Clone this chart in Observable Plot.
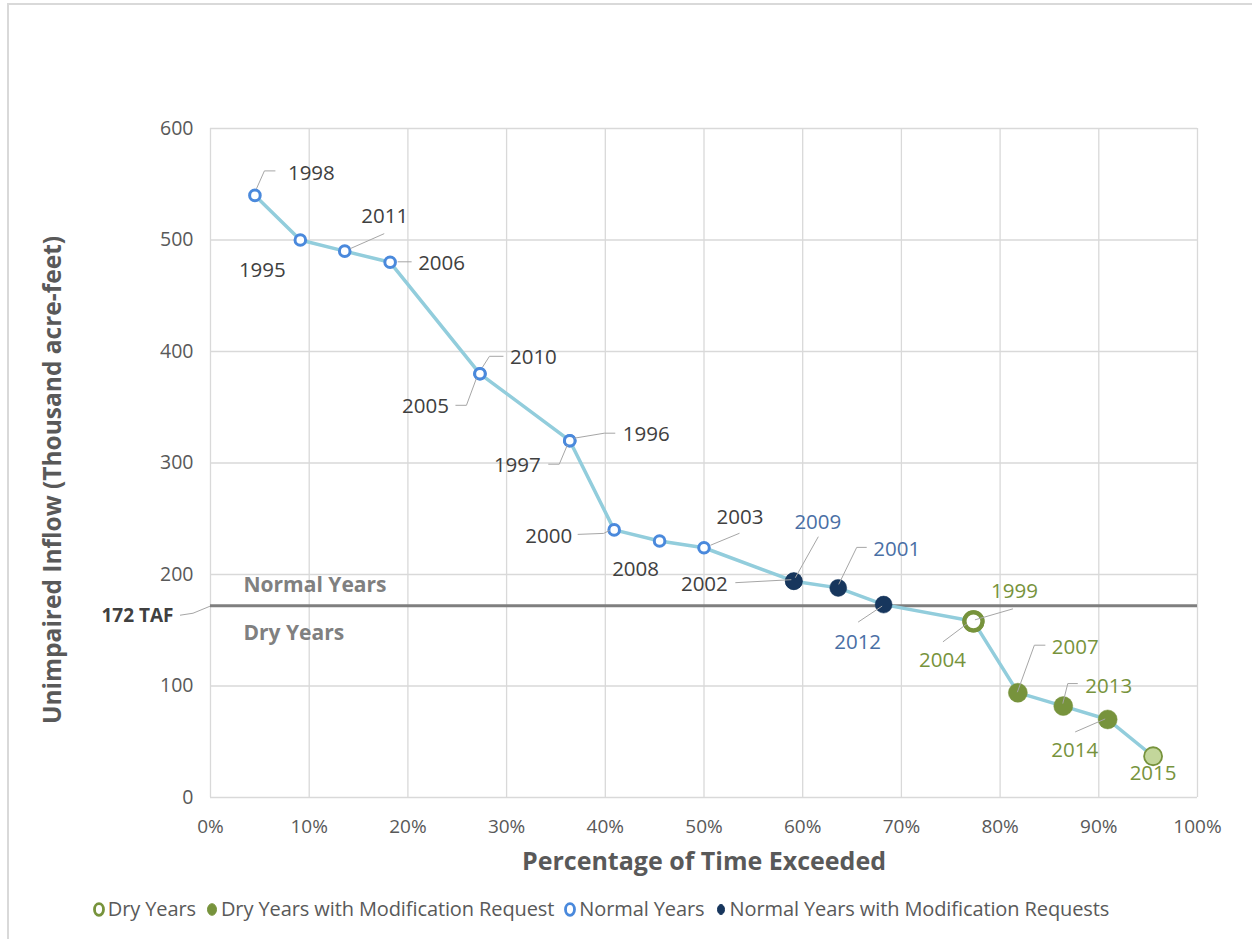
<!DOCTYPE html>
<html>
<head>
<meta charset="utf-8">
<script src="https://cdn.jsdelivr.net/npm/d3@7"></script>
<script src="https://cdn.jsdelivr.net/npm/@observablehq/plot@0.6"></script>
<style>
  html, body { margin: 0; padding: 0; background: #fff; overflow: hidden; }
  #wrap { position: relative; width: 1252px; height: 939px; font-family: "Open Sans", sans-serif; }
  #frame { position: absolute; left: 7px; top: 3px; width: 1300px; height: 1000px; border-top: 2px solid #d9d9d9; border-left: 2px solid #d9d9d9; box-sizing: border-box; }
  #chart { position: absolute; left: 0; top: 0; }
  #legend { position: absolute; left: 0; top: 895px; width: 1202px; text-align: center; font-family: "Open Sans", sans-serif; font-size: 20px; color: #595959; letter-spacing: -0.1px; white-space: nowrap; }
  #legend span.item { margin: 0 5px; }
  #legend svg { vertical-align: -1px; margin-right: 3px; }
</style>
</head>
<body>
<div id="wrap">
  <div id="frame"></div>
  <div id="chart"></div>
  <div id="legend"></div>
</div>
<script>
// ---- data ----
const years    = [1998, 1995, 2011, 2006, 2010, 2005, 1996, 1997, 2000, 2008, 2003, 2009, 2002, 2001, 2012, 1999, 2004, 2007, 2013, 2014, 2015];
const exceed   = [4.5, 9.1, 13.6, 18.2, 27.3, 27.3, 36.4, 36.4, 40.9, 45.5, 50.0, 59.1, 59.1, 63.6, 68.2, 77.3, 77.3, 81.8, 86.4, 90.9, 95.5];
const inflow   = [540, 500, 490, 480, 380, 380, 320, 320, 240, 230, 224, 194, 194, 188, 173, 158, 158, 94, 82, 70, 37];
const category = ["normal","normal","normal","normal","normal","normal","normal","normal","normal","normal","normal",
                  "normalMod","normalMod","normalMod","normalMod",
                  "dry","dry","dryMod","dryMod","dryMod","dryLast"];
const threshold = [172];
const thresholdLabel = "172 TAF";
const zoneLabels = ["Normal Years", "Dry Years"];
const yTicks = [0, 100, 200, 300, 400, 500, 600];
const xTicks = [0, 10, 20, 30, 40, 50, 60, 70, 80, 90, 100];
const legendLabels = ["Dry Years", "Dry Years with Modification Request", "Normal Years", "Normal Years with Modification Requests"];

// ---- label styling (pixel offsets) ----
const labelStyle = [
  {dx: 33, dy: -22, anchor: "start"},   // 1998
  {dx: -38, dy: 30, anchor: "middle"},  // 1995
  {dx: 40, dy: -35, anchor: "middle"},  // 2011
  {dx: 28, dy: 1, anchor: "start"},     // 2006
  {dx: 30, dy: -16, anchor: "start"},   // 2010
  {dx: -31, dy: 33, anchor: "end"},     // 2005
  {dx: 53, dy: -6, anchor: "start"},    // 1996
  {dx: -29, dy: 25, anchor: "end"},     // 1997
  {dx: -42, dy: 7, anchor: "end"},      // 2000
  {dx: -24, dy: 28, anchor: "middle"},  // 2008
  {dx: 36, dy: -30, anchor: "middle"},  // 2003
  {dx: 24, dy: -59, anchor: "middle"},  // 2009
  {dx: -66, dy: 3, anchor: "end"},      // 2002
  {dx: 35, dy: -38, anchor: "start"},   // 2001
  {dx: -26, dy: 38, anchor: "middle"},  // 2012
  {dx: 41, dy: -30, anchor: "middle"},  // 1999
  {dx: -31, dy: 39, anchor: "middle"},  // 2004
  {dx: 34, dy: -45, anchor: "start"},   // 2007
  {dx: 22, dy: -20, anchor: "start"},   // 2013
  {dx: -33, dy: 31, anchor: "middle"},  // 2014
  {dx: 0, dy: 17, anchor: "middle"}     // 2015
];
const leaderPts = [
  [[2,-6],[10,-24],[21,-24]],
  null,
  [[6,-2],[40,-17]],
  [[8,0],[22,0]],
  [[3,-6],[10,-17],[24,-17]],
  [[-24,32],[-13,32],[-3,5]],
  [[5,-2],[35,-7],[46,-7]],
  [[-21,24],[-10,24],[-2,5]],
  [[-36,5],[-10,4],[-4,1]],
  null,
  [[7,-2],[36,-14]],
  [[2,-3],[25,-44]],
  [[-58,2],[-2,-1]],
  [[29,-40],[19,-40],[1,-3]],
  [[-25,18],[-1,2]],
  [[40,-12],[2,-1]],
  [[-30,21],[-6,3]],
  [[28,-47],[17,-47],[0,0]],
  [[15,-22],[5,-22],[0,-2]],
  [[-32,13],[-2,0]],
  null
];
const labelColor = {normal: "#404040", normalMod: "#4a6fa5", dry: "#77933c", dryMod: "#77933c", dryLast: "#77933c"};
const labelColorOverride = {2002: "#404040"};

const idx = years.map((_, i) => i);
const ofCat = c => idx.filter(i => category[i] === c);

function leaders(index, scales) {
  const g = d3.create("svg:g").attr("fill", "none").attr("stroke", "#a6a6a6").attr("stroke-width", 1);
  idx.forEach(i => {
    const pts = leaderPts[i];
    if (!pts) return;
    const px = scales.x(exceed[i]), py = scales.y(inflow[i]);
    g.append("polyline").attr("points", pts.map(([a, b]) => `${px + a},${py + b}`).join(" "));
  });
  // leader for threshold label
  const tx = scales.x(0), ty = scales.y(threshold[0]);
  g.append("polyline").attr("points", `${tx - 30},${ty + 10} ${tx - 17},${ty + 8} ${tx},${ty + 1}`);
  return g.node();
}

const labelMarks = idx.map(i => Plot.text([i], {
  x: j => exceed[j], y: j => inflow[j], text: j => String(years[j]),
  dx: labelStyle[i].dx, dy: labelStyle[i].dy, textAnchor: labelStyle[i].anchor,
  fill: labelColorOverride[years[i]] || labelColor[category[i]],
  fontSize: 20.5
}));

const plot = Plot.plot({
  width: 1252,
  height: 890,
  marginTop: 128,
  marginBottom: 93,
  marginLeft: 210,
  marginRight: 55,
  style: {fontFamily: "'Open Sans', sans-serif", overflow: "visible"},
  x: {domain: [0, 100]},
  y: {domain: [0, 600]},
  marks: [
    Plot.gridX(xTicks, {stroke: "#d9d9d9", strokeOpacity: 1, strokeWidth: 1.3}),
    Plot.gridY(yTicks, {stroke: "#d9d9d9", strokeOpacity: 1, strokeWidth: 1.3}),
    Plot.axisX(xTicks, {tickSize: 0, tickPadding: 22, tickFormat: d => d + "%", fontSize: 19, fill: "#595959", label: null}),
    Plot.axisY(yTicks, {tickSize: 0, tickPadding: 17, fontSize: 19.5, fill: "#595959", label: null}),
    Plot.ruleY(threshold, {stroke: "#7f7f7f", strokeWidth: 3}),
    Plot.text(threshold, {x: () => 0, y: d => d, text: () => zoneLabels[0], dx: 33, dy: -20, textAnchor: "start", fontWeight: "bold", fontSize: 21, fill: "#808080"}),
    Plot.text(threshold, {x: () => 0, y: d => d, text: () => zoneLabels[1], dx: 33, dy: 28, textAnchor: "start", fontWeight: "bold", fontSize: 21, fill: "#808080"}),
    Plot.text(threshold, {x: () => 0, y: d => d, text: () => thresholdLabel, dx: -37, dy: 10, textAnchor: "end", fontWeight: "bold", fontSize: 19, fill: "#404040", letterSpacing: -0.2}),
    Plot.line(idx, {x: i => exceed[i], y: i => inflow[i], stroke: "#92cddc", strokeWidth: 3.5}),
    Plot.dot(ofCat("normal"), {x: i => exceed[i], y: i => inflow[i], r: 5.3, fill: "#ffffff", stroke: "#4a89dc", strokeWidth: 3}),
    Plot.dot(ofCat("normalMod"), {x: i => exceed[i], y: i => inflow[i], r: 8.5, fill: "#17365d", stroke: "#17365d", strokeWidth: 0.5}),
    Plot.dot(ofCat("dry"), {x: i => exceed[i], y: i => inflow[i], r: 9, fill: "#ffffff", stroke: "#77933c", strokeWidth: 4.2}),
    Plot.dot(ofCat("dryMod"), {x: i => exceed[i], y: i => inflow[i], r: 9.5, fill: "#77933c", stroke: "#77933c", strokeWidth: 0.5}),
    Plot.dot(ofCat("dryLast"), {x: i => exceed[i], y: i => inflow[i], r: 9, fill: "#c3d69b", stroke: "#77933c", strokeWidth: 1.8}),
    leaders,
    ...labelMarks,
    Plot.text(["Percentage of Time Exceeded"], {frameAnchor: "bottom", textAnchor: "middle", text: d => d, dy: 72, fontWeight: "bold", fontSize: 25, fill: "#595959"}),
    Plot.text(["Unimpaired Inflow (Thousand acre-feet)"], {frameAnchor: "left", textAnchor: "middle", text: d => d, dx: -157, dy: 17, rotate: -90, fontWeight: "bold", fontSize: 24.5, fill: "#595959"})
  ]
});
document.getElementById("chart").appendChild(plot);

// legend
const legendSymbols = [
  {fill: "#ffffff", stroke: "#77933c", sw: 2.8},
  {fill: "#77933c", stroke: "#77933c", sw: 1},
  {fill: "#ffffff", stroke: "#4a89dc", sw: 2.8},
  {fill: "#17365d", stroke: "#17365d", sw: 1}
];
const legend = d3.select("#legend");
legendLabels.forEach((lab, k) => {
  const s = legendSymbols[k];
  const item = legend.append("span").attr("class", "item");
  const svg = item.append("svg").attr("width", 12).attr("height", 15);
  svg.append("ellipse").attr("cx", 6).attr("cy", 7.5).attr("rx", k === 3 ? 3.5 : 4.5).attr("ry", k === 3 ? 5 : 5.8)
    .attr("fill", s.fill).attr("stroke", s.stroke).attr("stroke-width", s.sw);
  item.append("span").text(lab);
});
</script>
</body>
</html>
